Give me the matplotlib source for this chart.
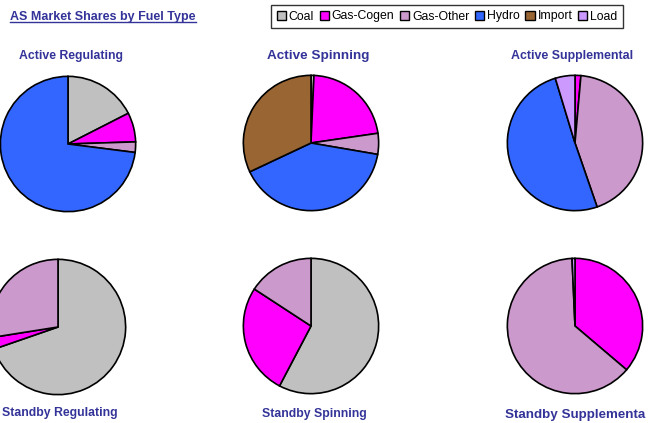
import matplotlib.pyplot as plt
from matplotlib.patches import Patch
from matplotlib.lines import Line2D

plt.rcParams['font.family'] = ['Liberation Sans', 'DejaVu Sans']

# fuel types and colours (legend order = wedge order, clockwise from 12 o'clock)
fuels = ['Coal', 'Gas-Cogen', 'Gas-Other', 'Hydro', 'Import', 'Load']
fuel_colors = ['#C0C0C0', '#FF00FF', '#CC99CC', '#3366FF', '#996633', '#CC99FF']

# shares in percent
active_regulating = [17.5, 7.0, 2.5, 73.0, 0, 0]
active_spinning = [0.7, 22.0, 5.0, 40.3, 32.0, 0]
active_supplemental = [0, 1.4, 43.3, 50.6, 0, 4.7]
standby_regulating = [69.7, 2.8, 27.5, 0, 0, 0]
standby_spinning = [57.7, 26.5, 15.8, 0, 0, 0]
standby_supplemental = [0, 36.2, 63.1, 0, 0, 0.7]

# last title is cut short in the source chart
titles = ['Active Regulating', 'Active Spinning', 'Active Supplemental',
          'Standby Regulating', 'Standby Spinning', 'Standby Supplementa']
series = [active_regulating, active_spinning, active_supplemental,
          standby_regulating, standby_spinning, standby_supplemental]

W, H = 649, 423
fig = plt.figure(figsize=(W / 100, H / 100), dpi=100)

# pie centres / radius in pixels (from top-left)
centres = [(68, 144), (311, 143), (575, 143), (58, 327), (311, 326), (575, 326)]
radius = 69
# title positions (x, y, ha, size)
title_pos = [(71, 56, 'center', 8.8), (318, 55.5, 'center', 9.7),
             (572.5, 56, 'center', 8.9), (60, 413, 'center', 8.8),
             (314, 414, 'center', 8.8), (505, 415, 'left', 9.6)]

navy = '#333399'

for vals, (cx, cy), t, (tx, ty, ha, fs) in zip(series, centres, titles, title_pos):
    ax = fig.add_axes([(cx - radius) / W, 1 - (cy + radius) / H,
                       2 * radius / W, 2 * radius / H])
    v = [x for x in vals if x > 0]
    c = [fuel_colors[i] for i, x in enumerate(vals) if x > 0]
    ax.pie(v, colors=c, startangle=90, counterclock=False, radius=1,
           wedgeprops=dict(edgecolor='black', linewidth=1.2))
    ax.set_xlim(-1.02, 1.02)
    ax.set_ylim(-1.02, 1.02)
    ax.set_aspect('equal')
    ax.axis('off')
    fig.text(tx / W, 1 - ty / H, t, ha=ha, va='center', fontsize=fs,
             fontweight='bold', color=navy)

# main title, underlined
ttl = fig.text(10 / W, 1 - 17 / H, 'AS Market Shares by Fuel Type', ha='left',
               va='center', fontsize=9, fontweight='bold', color=navy)
fig.canvas.draw()
bb = ttl.get_window_extent()
fig.add_artist(Line2D([bb.x0 / W, bb.x1 / W], [(bb.y0 + 1) / H, (bb.y0 + 1) / H],
                      color=navy, linewidth=1.0, transform=fig.transFigure))

handles = [Patch(facecolor=col, edgecolor='black', linewidth=1.0) for col in fuel_colors]
leg = fig.legend(handles, fuels, loc='center', bbox_to_anchor=(447 / W, 1 - 16.5 / H),
                 ncol=6, fontsize=8.8, frameon=True, fancybox=False,
                 handlelength=0.75, handleheight=0.75, handletextpad=0.25,
                 columnspacing=0.45, borderpad=0.45, borderaxespad=0)
leg.get_frame().set_edgecolor('black')
leg.get_frame().set_linewidth(1.0)

fig.savefig('out.png', dpi=100)
